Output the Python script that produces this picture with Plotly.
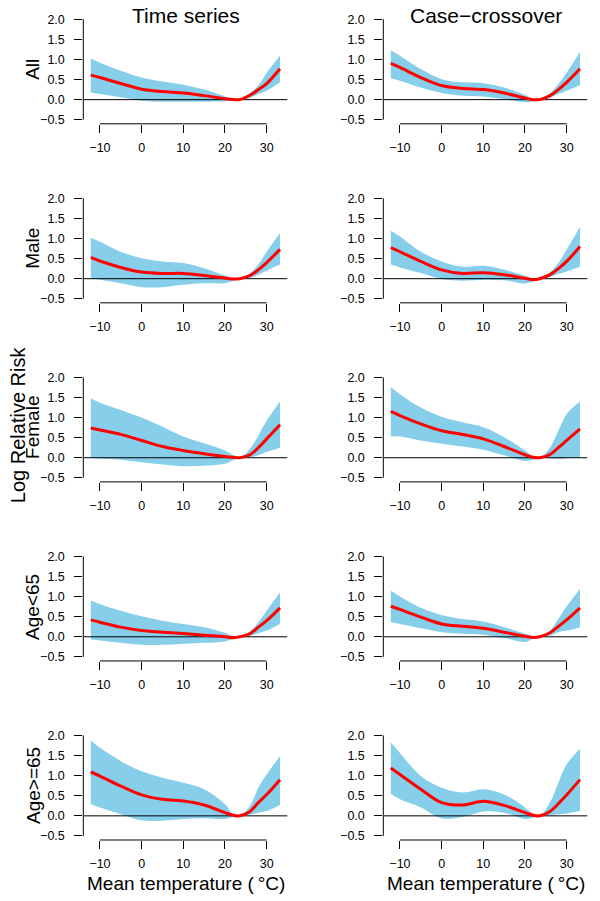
import plotly.graph_objects as go

temp = [-12.2, -10, -5, 0, 5, 10, 15, 20, 22, 23.5, 26, 28, 30, 33.2]

# Time series / Case-crossover: fitted log RR, lower and upper bounds
ts_all_fit = [0.61, 0.55, 0.40, 0.26, 0.20, 0.165, 0.10, 0.025, 0.003, 0, 0.11, 0.25, 0.40, 0.77]
ts_all_lo = [0.18, 0.14, 0.06, -0.025, -0.05, -0.05, -0.05, -0.04, -0.01, 0, 0.05, 0.14, 0.22, 0.43]
ts_all_hi = [1.02, 0.92, 0.72, 0.55, 0.45, 0.37, 0.25, 0.08, 0.01, 0, 0.17, 0.35, 0.67, 1.09]

cc_all_fit = [0.90, 0.80, 0.55, 0.35, 0.28, 0.25, 0.165, 0.04, 0.0, 0, 0.10, 0.25, 0.43, 0.77]
cc_all_lo = [0.53, 0.47, 0.30, 0.165, 0.10, 0.08, 0.015, -0.065, -0.04, 0, 0.05, 0.14, 0.22, 0.36]
cc_all_hi = [1.23, 1.09, 0.76, 0.51, 0.43, 0.41, 0.30, 0.115, 0.015, 0, 0.16, 0.39, 0.67, 1.19]

ts_male_fit = [0.53, 0.44, 0.28, 0.165, 0.13, 0.13, 0.08, 0.015, -0.01, 0, 0.08, 0.22, 0.40, 0.73]
ts_male_lo = [0.015, -0.025, -0.11, -0.21, -0.21, -0.15, -0.115, -0.11, -0.05, 0, 0.015, 0.10, 0.20, 0.35]
ts_male_hi = [1.02, 0.92, 0.67, 0.51, 0.43, 0.39, 0.26, 0.08, 0.01, 0, 0.14, 0.35, 0.67, 1.13]

cc_male_fit = [0.77, 0.67, 0.43, 0.22, 0.13, 0.15, 0.10, 0.01, -0.025, 0, 0.10, 0.25, 0.43, 0.80]
cc_male_lo = [0.35, 0.28, 0.14, -0.01, -0.05, -0.025, -0.04, -0.12, -0.065, 0, 0.04, 0.115, 0.18, 0.30]
cc_male_hi = [1.19, 1.05, 0.67, 0.43, 0.30, 0.32, 0.22, 0.075, 0.0, 0, 0.16, 0.39, 0.72, 1.29]

ts_female_fit = [0.74, 0.69, 0.58, 0.43, 0.28, 0.18, 0.10, 0.03, 0.01, 0, 0.075, 0.25, 0.47, 0.82]
ts_female_lo = [0.0, -0.02, -0.05, -0.11, -0.165, -0.21, -0.20, -0.15, -0.065, 0, 0.015, 0.06, 0.14, 0.25]
ts_female_hi = [1.48, 1.37, 1.19, 1.0, 0.77, 0.53, 0.36, 0.18, 0.06, 0, 0.22, 0.55, 0.92, 1.40]

cc_female_fit = [1.15, 1.05, 0.84, 0.67, 0.58, 0.47, 0.28, 0.075, 0.01, 0, 0.08, 0.25, 0.43, 0.72]
cc_female_lo = [0.53, 0.53, 0.43, 0.35, 0.28, 0.20, 0.06, -0.08, -0.05, 0, -0.01, -0.025, -0.01, 0.015]
cc_female_hi = [1.76, 1.58, 1.25, 1.02, 0.88, 0.76, 0.51, 0.18, 0.03, 0, 0.25, 0.67, 1.09, 1.40]

ts_young_fit = [0.42, 0.36, 0.24, 0.155, 0.115, 0.08, 0.04, 0.0, -0.025, 0, 0.08, 0.24, 0.40, 0.72]
ts_young_lo = [-0.065, -0.09, -0.15, -0.20, -0.20, -0.17, -0.15, -0.115, -0.05, 0, 0.03, 0.09, 0.155, 0.32]
ts_young_hi = [0.90, 0.81, 0.65, 0.51, 0.40, 0.32, 0.24, 0.10, 0.016, 0, 0.13, 0.36, 0.65, 1.10]

cc_young_fit = [0.76, 0.68, 0.49, 0.32, 0.26, 0.21, 0.115, 0.016, -0.016, 0, 0.10, 0.255, 0.42, 0.72]
cc_young_lo = [0.36, 0.32, 0.21, 0.115, 0.074, 0.05, -0.03, -0.13, -0.05, 0, 0.03, 0.115, 0.155, 0.24]
cc_young_hi = [1.15, 1.0, 0.72, 0.54, 0.44, 0.38, 0.24, 0.074, 0.01, 0, 0.155, 0.44, 0.76, 1.19]

ts_old_fit = [1.09, 0.99, 0.74, 0.52, 0.41, 0.37, 0.27, 0.08, 0.016, 0, 0.11, 0.33, 0.53, 0.90]
ts_old_lo = [0.29, 0.21, 0.04, -0.11, -0.12, -0.08, -0.06, -0.08, -0.025, 0, 0.025, 0.08, 0.12, 0.27]
ts_old_hi = [1.87, 1.69, 1.36, 1.11, 0.95, 0.82, 0.66, 0.29, 0.04, 0, 0.25, 0.70, 1.03, 1.48]

cc_old_fit = [1.19, 1.03, 0.66, 0.33, 0.27, 0.36, 0.26, 0.08, 0.016, 0, 0.11, 0.30, 0.52, 0.90]
cc_old_lo = [0.55, 0.41, 0.21, -0.06, -0.03, 0.11, 0.08, -0.08, -0.04, 0, 0.016, 0.04, 0.06, 0.12]
cc_old_hi = [1.83, 1.56, 0.99, 0.70, 0.58, 0.66, 0.53, 0.21, 0.04, 0, 0.33, 0.82, 1.28, 1.67]

row_labels = ["All", "Male", "Female", "Age<65", "Age>=65"]
col_titles = ["Time series", "Case\u2212crossover"]
x_ticks = [-10, 0, 10, 20, 30]
y_ticks = [-0.5, 0.0, 0.5, 1.0, 1.5, 2.0]

panels = [
    [(ts_all_fit, ts_all_lo, ts_all_hi), (cc_all_fit, cc_all_lo, cc_all_hi)],
    [(ts_male_fit, ts_male_lo, ts_male_hi), (cc_male_fit, cc_male_lo, cc_male_hi)],
    [(ts_female_fit, ts_female_lo, ts_female_hi), (cc_female_fit, cc_female_lo, cc_female_hi)],
    [(ts_young_fit, ts_young_lo, ts_young_hi), (cc_young_fit, cc_young_lo, cc_young_hi)],
    [(ts_old_fit, ts_old_lo, ts_old_hi), (cc_old_fit, cc_old_lo, cc_old_hi)],
]

W, H = 600, 901
XR = [-14, 35]
YR = [-0.6, 2.1]
FONT = "Liberation Sans, Arial, sans-serif"
BAND = "#87CEEB"


def px(x):
    return x / W


def py(y):
    return 1 - y / H


fig = go.Figure()
layout = dict(width=W, height=H, margin=dict(l=0, r=0, t=0, b=0),
              paper_bgcolor="white", plot_bgcolor="white", showlegend=False,
              font=dict(family=FONT, color="black"))
shapes = []
annotations = []

for r in range(5):
    for c in range(2):
        k = r * 2 + c + 1
        sfx = "" if k == 1 else str(k)
        xa, ya = "x" + sfx, "y" + sfx
        fit, lo, hi = panels[r][c]

        left = 83.3 + 300 * c
        right = 287.5 + 300 * c
        top = 12.25 + 180.25 * r
        bottom = 121.6 + 180.25 * r

        fig.add_trace(go.Scatter(x=temp, y=lo, mode="lines", line=dict(width=0, shape="spline"),
                                 xaxis=xa, yaxis=ya, hoverinfo="skip"))
        fig.add_trace(go.Scatter(x=temp, y=hi, mode="lines", line=dict(width=0, shape="spline"),
                                 fill="tonexty", fillcolor=BAND, xaxis=xa, yaxis=ya, hoverinfo="skip"))
        # reference line at zero
        fig.add_trace(go.Scatter(x=XR, y=[0, 0], mode="lines", line=dict(color="black", width=1),
                                 xaxis=xa, yaxis=ya, hoverinfo="skip"))
        fig.add_trace(go.Scatter(x=temp, y=fit, mode="lines", line=dict(color="red", width=3, shape="spline"),
                                 xaxis=xa, yaxis=ya))

        layout["xaxis" + sfx] = dict(domain=[px(left), px(right)], range=XR, anchor=ya,
                                     tickvals=x_ticks, ticks="outside", ticklen=8, tickwidth=1,
                                     tickcolor="black", showline=False, showgrid=False, zeroline=False,
                                     tickfont=dict(size=12.5, family=FONT), ticklabelstandoff=4)
        layout["yaxis" + sfx] = dict(domain=[py(bottom), py(top)], range=YR, anchor=xa,
                                     tickvals=y_ticks, tickformat=".1f", ticks="outside", ticklen=8,
                                     tickwidth=1, tickcolor="black", showline=False, showgrid=False,
                                     zeroline=False, tickfont=dict(size=12.5, family=FONT),
                                     ticklabelstandoff=7)
        # R style axis lines, only between first and last tick
        shapes.append(dict(type="line", xref=xa, yref=ya + " domain", x0=x_ticks[0], x1=x_ticks[-1],
                           y0=0, y1=0, line=dict(color="black", width=1)))
        shapes.append(dict(type="line", xref=xa + " domain", yref=ya, x0=0, x1=0,
                           y0=y_ticks[0], y1=y_ticks[-1], line=dict(color="black", width=1)))

    annotations.append(dict(text=row_labels[r], x=px(33), y=py(67.25 + 180.25 * r),
                            xref="paper", yref="paper", textangle=-90, showarrow=False,
                            xanchor="center", yanchor="middle", font=dict(size=19)))

for c in range(2):
    annotations.append(dict(text=col_titles[c], x=px(185.5 + 300 * c), y=py(13),
                            xref="paper", yref="paper", showarrow=False,
                            xanchor="center", yanchor="middle", font=dict(size=21)))
    annotations.append(dict(text="Mean temperature (\u2009\u00b0C)", x=px(186 + 300 * c), y=py(886),
                            xref="paper", yref="paper", showarrow=False,
                            xanchor="center", yanchor="middle", font=dict(size=19)))

annotations.append(dict(text="Log Relative Risk", x=px(18), y=py(425), xref="paper", yref="paper",
                        textangle=-90, showarrow=False, xanchor="center", yanchor="middle",
                        font=dict(size=20)))

layout["shapes"] = shapes
layout["annotations"] = annotations
fig.update_layout(**layout)

# drop the browser's default body margin so the figure fills the window
fig.write_html("out.html", config={"displayModeBar": False},
               post_script="document.body.style.margin = '0';")
